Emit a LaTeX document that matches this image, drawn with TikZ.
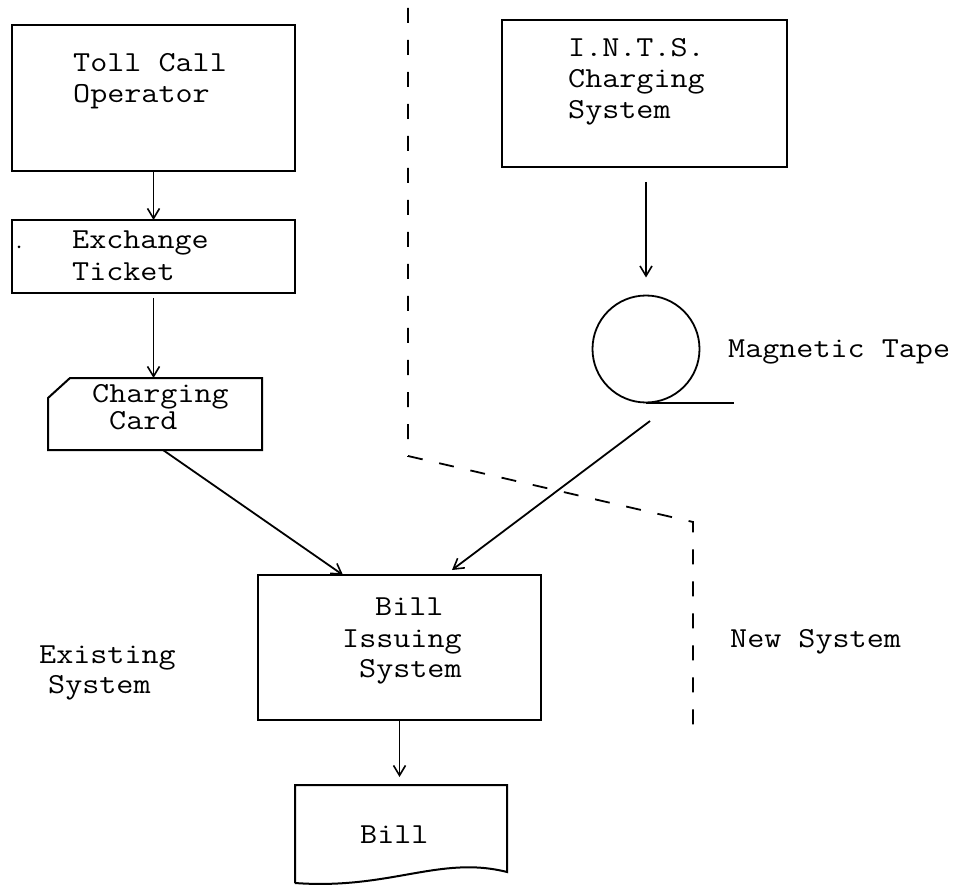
\documentclass[tikz,border=0pt]{standalone}
\usepackage{graphicx}
\usetikzlibrary{arrows.meta}
\newcommand{\wtxt}[1]{\scalebox{1.143}[1]{#1}}
\begin{document}
\begin{tikzpicture}[x=1pt,y=-1pt,
  box/.style={draw, line width=2pt, inner sep=0pt, outer sep=0pt},
  shapebox/.style={inner sep=0pt, outer sep=0pt},
  lbl/.style={anchor=base west, inner sep=0pt, font=\ttfamily\fontsize{29}{31}\selectfont},
  arr/.style={line width=1.8pt, -{Straight Barb[length=10pt,width=12pt,line width=1.6pt]}},
  boundary/.style={line width=1.8pt, dash pattern=on 15pt off 17pt}
]
\useasboundingbox (0,0) rectangle (964,885);

% boxes
\node[box, minimum width=283pt, minimum height=146pt] (toll) at (153.5,98) {};
\node[box, minimum width=283pt, minimum height=73pt] (exch) at (153.5,256.5) {};
\node[shapebox, minimum width=214pt, minimum height=72pt] (card) at (155,414) {};
\draw[line width=2pt, line join=miter]
  ([yshift=-20pt]card.north west) -- ([xshift=22pt]card.north west) -- (card.north east)
  -- (card.south east) -- (card.south west) -- cycle;
\node[box, minimum width=285pt, minimum height=147pt] (ints) at (644.5,93.5) {};
\node[draw, circle, line width=1.8pt, minimum size=107pt, inner sep=0pt, outer sep=0pt] (tape) at (646,349) {};
\draw[line width=2pt] (tape.south) -- ++(88,0);
\node[box, minimum width=283pt, minimum height=145pt] (bis) at (399.5,647.5) {};
\node[shapebox, minimum width=212pt, minimum height=98pt] (bill) at (401,834) {};
\draw[line width=2pt, line join=miter]
  (bill.south west) -- (bill.north west) -- (bill.north east) -- ([yshift=11pt]bill.south east)
  .. controls (440,855) and (390,890) .. (bill.south west);

% stray dot
\node[circle, fill, inner sep=0pt, minimum size=3pt] (speck) at (19,247) {};

% texts
\node[lbl] (t1) at (73,72) {\wtxt{Toll Call}};
\node[lbl] (t2) at (73,103) {\wtxt{Operator}};
\node[lbl] (e1) at (72,249) {\wtxt{Exchange}};
\node[lbl] (e2) at (72,281) {\wtxt{Ticket}};
\node[lbl] (c1) at (92,402) {\wtxt{Charging}};
\node[lbl] (c2) at (109,429) {\wtxt{Card}};
\node[lbl] (i1) at (568,57) {\wtxt{I.N.T.S.}};
\node[lbl] (i2) at (568,88) {\wtxt{Charging}};
\node[lbl] (i3) at (568,119) {\wtxt{System}};
\node[lbl] (mt) at (728,358) {\wtxt{Magnetic Tape}};
\node[lbl] (b1) at (375,615) {\wtxt{Bill}};
\node[lbl] (b2) at (342,647) {\wtxt{Issuing}};
\node[lbl] (b3) at (359,677) {\wtxt{System}};
\node[lbl] (bl) at (360,843) {\wtxt{Bill}};
\node[lbl] (ex1) at (39,663) {\wtxt{Existing}};
\node[lbl] (ex2) at (48,693) {\wtxt{System}};
\node[lbl] (ns) at (730,647) {\wtxt{New System}};

% boundary
\coordinate (d1) at (408,8);
\coordinate (d2) at (408,456);
\coordinate (d3) at (693,522);
\coordinate (d4) at (693,727);
\draw[boundary] (d1) -- (d2) -- (d3) -- (d4);

% connectors
\draw[arr] (toll.south) -- (exch.north);
\draw[arr, shorten <=5pt] (exch.south) -- (exch.south |- card.north);
\draw[arr] ([xshift=8pt]card.south) -- ([xshift=-56.5pt]bis.north);
\draw[arr, shorten <=15pt, shorten >=18pt] (ints.south -| tape.north) -- (tape.north);
\draw[arr] ([shift={(4pt,-18.5pt)}]tape.south) -- ([shift={(52.5pt,5pt)}]bis.north);
\draw[arr, shorten >=8pt] (bis.south) -- (bis.south |- bill.north);
\end{tikzpicture}
\end{document}
